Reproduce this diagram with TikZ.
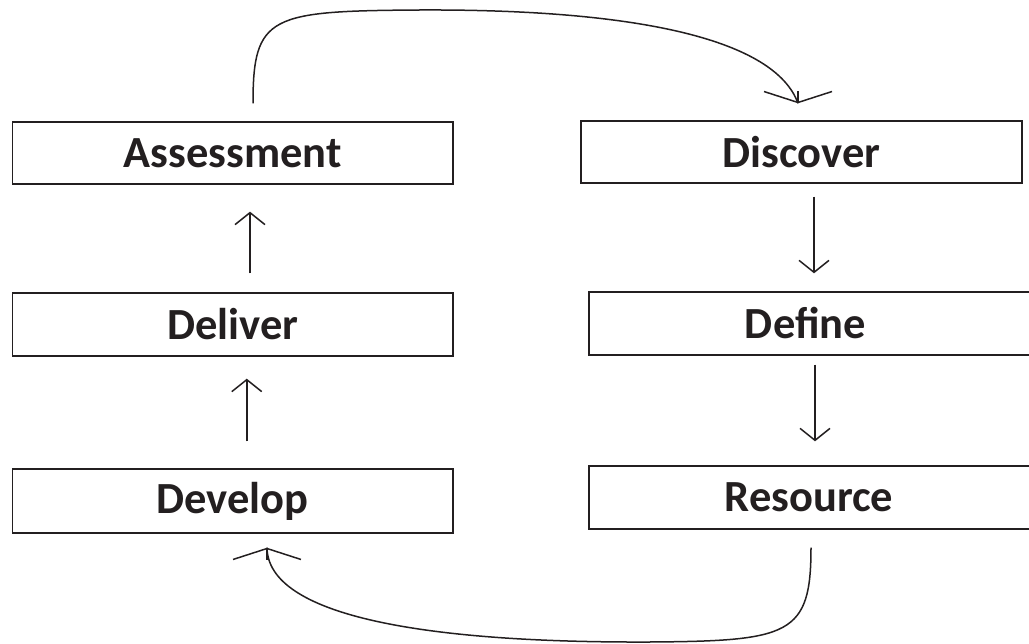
\documentclass[tikz,border=0pt]{standalone}
\usepackage{fontspec}
\setmainfont{Carlito}
\usetikzlibrary{arrows.meta}
\definecolor{ink}{HTML}{231F20}
\begin{document}
\begin{tikzpicture}[x=1pt,y=-1pt,
  stage/.style={draw=ink, line width=1.4pt, rectangle, minimum height=62pt,
    inner sep=0pt, text=ink, font=\bfseries\fontsize{44.5}{50}\selectfont},
  flow/.style={draw=ink, line width=1.5pt,
    -{Straight Barb[length=12pt,width=30pt]}},
  loop/.style={draw=ink, line width=1.5pt},
  loophead/.style={draw=ink, line width=1.5pt,
    -{Straight Barb[length=11pt,width=68pt]}}]
\useasboundingbox (0,0) rectangle (1029,644);

% left column
\node[stage, minimum width=440.5pt, minimum height=62pt] (assess)   at (232.75,153)   {Assessment};
\node[stage, minimum width=440.5pt, minimum height=63pt] (deliver)  at (232.75,324.5) {Deliver};
\node[stage, minimum width=440.5pt, minimum height=64pt] (develop)  at (232.75,501)   {Develop};
% right column
\node[stage, minimum width=441pt, minimum height=62pt] (discover) at (801.5,152)   {Discover};
\node[stage, minimum width=447pt, minimum height=63pt] (define)   at (812.5,323.5) {\hspace*{-14pt}Define};
\node[stage, minimum width=447pt, minimum height=63pt] (resource) at (812.5,497.5) {\hspace*{-7pt}Resource};

% straight steps
\draw[flow, shorten <=27pt, shorten >=22pt] ([xshift=14pt]develop.north) -- ([xshift=14pt]deliver.south);
\draw[flow, shorten <=19pt, shorten >=27pt] ([xshift=17.25pt]deliver.north) -- ([xshift=17.25pt]assess.south);
\draw[flow, shorten <=13pt, shorten >=18pt] ([xshift=12.5pt]discover.south) -- ([xshift=12.5pt]discover.south |- define.north);
\draw[flow, shorten <=9pt, shorten >=24pt] ([xshift=2.5pt]define.south) -- ([xshift=2.5pt]resource.north);

% loop-backs between the columns: curved line, then an upright head
\coordinate (topend) at ([shift={(-3.5,-17)}]discover.north);
\coordinate (botend) at ([shift={(34.25,14)}]develop.south);
\draw[loop] ([shift={(20.25,-18)}]assess.north)
  .. controls (253,15) and (270,11) .. (420,10)
  .. controls (640,9) and (775,40) .. (topend);
\draw[loophead] ([yshift=12pt]topend) -- (topend);
\draw[loop] ([shift={(-1.5,18)}]resource.south)
  .. controls (811,635) and (790,641) .. (650,642)
  .. controls (420,643) and (268,615) .. (botend);
\draw[loophead] ([yshift=-12pt]botend) -- (botend);
\end{tikzpicture}
\end{document}
